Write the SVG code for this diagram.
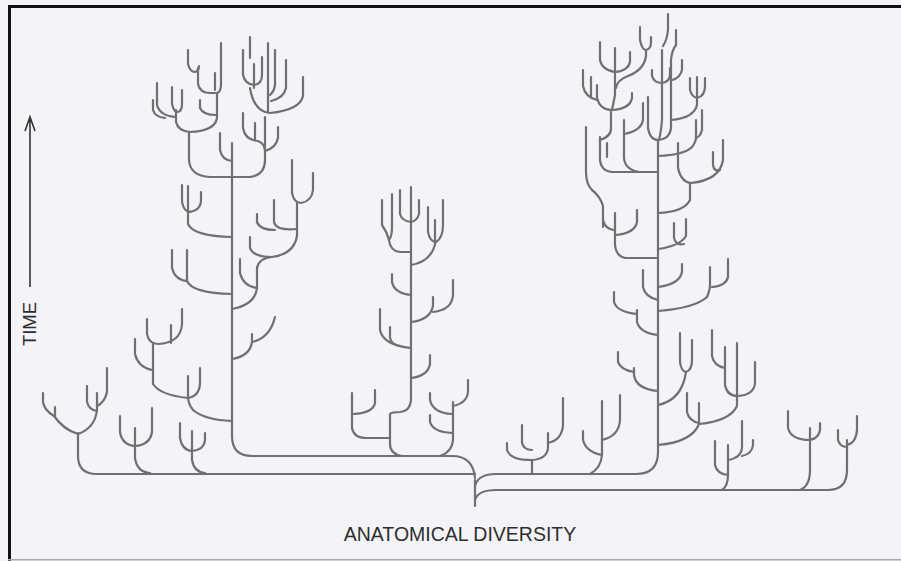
<svg xmlns="http://www.w3.org/2000/svg" width="901" height="561" viewBox="0 0 901 561">
<style>
.b{fill:none;stroke:#707070;stroke-width:2.2;stroke-linecap:round;stroke-linejoin:round}
.lbl{font-family:"Liberation Sans",Arial,sans-serif;fill:#2e2e2e}
</style>
<rect x="0" y="0" width="901" height="561" fill="#f3f3f8"/>
<g id="frame">
<rect x="8" y="5" width="893" height="3" fill="#111"/>
<rect x="8" y="5" width="3" height="556" fill="#111"/>
<rect x="8" y="559" width="893" height="1.5" fill="#aaa"/>
</g>
<g id="time-axis">
<path d="M30 287 V118 M25 131 L30 117 L35 131" fill="none" stroke="#333" stroke-width="1.6"/>
<text class="lbl" font-size="18.5" text-anchor="middle" transform="translate(36,324) rotate(-90)">TIME</text>
</g>
<text id="x-label" class="lbl" font-size="19.5" x="460" y="541" text-anchor="middle">ANATOMICAL DIVERSITY</text>
<g id="connectors" class="b">
<path d="M475 506 V480"/>
<path d="M475 478 Q473 456 452 456 H252 Q232 456 232 436"/>
<path d="M475 474 H95 Q78 473 78 456 V433"/>
<path d="M475 486 Q478 474 496 474 H636 Q658 474 658 452"/>
<path d="M475 500 Q478 490 496 490 H828 Q847 490 847 470 V440"/>
</g>
<g id="clade-far-left" class="b">
<path d="M78 434 Q64 430 54 416 Q44 410 43 402 V393"/>
<path d="M55 416 V407"/>
<path d="M78 434 Q95 428 97 410 V393"/>
<path d="M87 386 V402 Q89 410 97 411"/>
<path d="M107 368 V392 Q105 402 97 406"/>
<path d="M135 428 V458 Q137 472 150 473"/>
<path d="M120 416 V432 Q122 445 135 446 Q150 445 152 432 V408"/>
<path d="M192 431 V460 Q194 472 205 473"/>
<path d="M180 423 V438 Q182 450 192 451 Q204 450 205 440 V433"/>
</g>
<g id="tree-left" class="b">
<path d="M232 436 V143"/>
<path d="M232 421 Q205 420 193 410 Q188 404 188 396 V376"/>
<path d="M188 398 Q200 396 200 382 V368"/>
<path d="M188 398 Q160 395 153 384 V344"/>
<path d="M147 319 V334 Q149 344 158 344 Q180 343 182 325 V309"/>
<path d="M171 325 V343"/>
<path d="M135 339 V354 Q138 367 152 370"/>
<path d="M232 359 Q250 356 252 342 V334"/>
<path d="M252 342 Q270 338 275 317"/>
<path d="M232 309 Q255 305 257 288 V267"/>
<path d="M240 259 V273 Q243 286 257 288"/>
<path d="M257 268 Q259 258 272 257 Q294 254 297 236 V203"/>
<path d="M250 237 V248 Q253 257 272 257"/>
<path d="M297 229 Q276 231 274 222 V200"/>
<path d="M257 214 V222 Q260 230 275 230"/>
<path d="M292 160 V193 Q294 203 301 203 Q312 201 313 190 V173"/>
<path d="M232 294 Q192 293 187 281 V250"/>
<path d="M172 250 V268 Q175 280 187 281"/>
<path d="M232 237 Q193 236 188 224 V186"/>
<path d="M182 185 V202 Q184 212 190 212"/>
<path d="M188 212 Q201 211 201 200 V192"/>
<path d="M232 177 H210 Q190 176 189 160 V133"/>
<path d="M232 177 H250 Q265 175 265 160 V117"/>
<path d="M220 133 V150 Q222 160 232 161"/>
<path d="M243 113 V128 Q245 140 258 141 Q264 143 265 150"/>
<path d="M255 123 V140"/>
<path d="M278 127 V138 Q276 148 265 151"/>
<path d="M268 112 V43"/>
<path d="M250 88 Q254 112 270 113 Q300 110 303 96 V77"/>
<path d="M275 50 V80 Q276 90 270 95"/>
<path d="M286 60 V88 Q284 98 271 101"/>
<path d="M243 50 V75 Q245 84 254 85 Q262 84 262 75 V57"/>
<path d="M254 64 V88"/>
<path d="M250 37 V58"/>
<path d="M176 110 V122 Q178 131 190 132 Q215 131 217 118 V93"/>
<path d="M172 87 V104 Q174 112 177 112 Q182 112 182 104 V90"/>
<path d="M157 83 V105 Q160 116 176 117"/>
<path d="M153 100 V110 Q155 117 165 118"/>
<path d="M200 100 V108 Q203 115 216 115"/>
<path d="M198 68 V84 Q200 93 210 93 H217 Q221 92 221 84 V43"/>
<path d="M215 73 V90"/>
<path d="M188 50 V64 Q190 72 195 72 Q199 71 199 66"/>
</g>
<g id="tree-middle" class="b">
<path d="M402 456 Q390 454 390 444 V414 Q392 412 400 412 Q411 411 411 398 V187"/>
<path d="M352 393 V428 Q354 438 366 438 H390"/>
<path d="M375 390 V403 Q373 413 353 414"/>
<path d="M440 456 Q452 452 453 440 V402"/>
<path d="M430 415 V422 Q433 432 452 433"/>
<path d="M430 393 V400 Q433 413 452 414"/>
<path d="M453 406 Q467 403 468 392 V380"/>
<path d="M411 378 Q428 376 430 364 V355"/>
<path d="M411 348 Q383 345 380 330 V309"/>
<path d="M390 327 V338 Q392 345 400 346"/>
<path d="M411 322 Q430 320 433 306 V297"/>
<path d="M433 312 Q452 310 453 295 V280"/>
<path d="M411 295 Q394 293 392 282 V274"/>
<path d="M411 265 Q430 262 435 245 V220"/>
<path d="M428 207 V232 Q430 242 436 242 Q443 238 443 225 V200"/>
<path d="M411 252 H400 Q390 251 389 240 Q387 232 382 225 V200"/>
<path d="M392 194 V228 Q392 236 389 240"/>
<path d="M400 190 V214 Q402 221 411 222"/>
<path d="M419 200 V214 Q417 221 411 222"/>
</g>
<g id="clades-right-low" class="b">
<path d="M532 474 V460"/>
<path d="M507 443 V450 Q510 460 532 460 Q547 459 548 448 V433"/>
<path d="M522 425 V443 Q524 450 532 450"/>
<path d="M548 443 Q562 440 563 425 V398"/>
<path d="M590 474 Q601 468 602 455 V401"/>
<path d="M583 431 V440 Q586 452 602 455"/>
<path d="M602 440 Q619 436 620 420 V395"/>
<path d="M722 490 Q728 486 728 475 V445"/>
<path d="M715 441 V465 Q717 474 728 475"/>
<path d="M728 460 Q741 458 742 448 V421"/>
<path d="M742 456 Q752 454 753 445 V440"/>
<path d="M800 490 Q810 486 810 470 V428"/>
<path d="M788 411 V428 Q791 440 810 440 Q819 438 820 430 V423"/>
<path d="M838 430 V440 Q840 447 847 447"/>
<path d="M847 445 Q856 443 857 430 V416"/>
</g>
<g id="tree-right" class="b">
<path d="M658 452 V140"/>
<path d="M658 445 Q692 442 699 424 V403"/>
<path d="M687 393 V412 Q689 421 699 423"/>
<path d="M699 424 Q730 421 737 406 V396"/>
<path d="M725 347 V385 Q727 396 738 396 Q754 395 755 383 V362"/>
<path d="M737 343 V396"/>
<path d="M712 330 V356 Q714 366 725 368"/>
<path d="M658 405 Q682 400 686 372"/>
<path d="M680 333 V362 Q681 371 686 372 Q692 370 692 360 V340"/>
<path d="M658 391 Q636 389 634 375 V368"/>
<path d="M618 352 V362 Q621 370 634 372"/>
<path d="M658 335 Q640 333 637 322 V310"/>
<path d="M614 292 V302 Q617 312 637 314"/>
<path d="M658 311 Q695 308 707 297 Q710 290 710 285 V267"/>
<path d="M728 259 V277 Q726 286 712 287"/>
<path d="M658 300 Q645 297 643 287 V270"/>
<path d="M658 287 Q680 284 682 272 V264"/>
<path d="M658 258 H625 Q616 256 615 245 V213"/>
<path d="M603 227 V206 Q600 196 592 190 Q586 184 586 172 V127"/>
<path d="M603 220 Q605 229 614 230"/>
<path d="M637 210 V222 Q635 233 616 235"/>
<path d="M658 249 Q680 246 686 236 V219"/>
<path d="M674 223 V238 Q676 246 684 244"/>
<path d="M658 213 Q684 212 690 200 V183"/>
<path d="M678 143 V168 Q681 182 691 183 Q720 180 723 160 V140"/>
<path d="M713 152 V165 Q714 172 720 170"/>
<path d="M658 172 H612 Q601 171 600 160 V137"/>
<path d="M607 143 V157"/>
<path d="M658 172 H640 Q625 170 624 158 V120"/>
<path d="M643 103 V120 Q641 131 624 134"/>
<path d="M597 85 V98 Q600 110 612 110 Q630 109 632 98 V93"/>
<path d="M583 70 V86 Q585 97 597 100"/>
<path d="M591 77 V97"/>
<path d="M611 110 V127 Q612 136 600 140"/>
<path d="M615 95 Q613 105 612 110"/>
<path d="M600 42 V60 Q602 70 615 72 Q628 71 630 62 V52"/>
<path d="M615 48 V95"/>
<path d="M640 27 V40 Q642 50 646 50 Q651 49 651 42 V37"/>
<path d="M646 50 V56 Q644 70 628 76 Q617 80 616 88"/>
<path d="M648 97 V128 Q650 140 658 140 Q670 139 671 128 V107"/>
<path d="M659 140 Q661 132 662 120 V50"/>
<path d="M652 70 V76 Q654 83 662 83 Q670 82 670 74 V68"/>
<path d="M668 14 V30 Q667 40 663 46"/>
<path d="M671 107 V60 Q672 50 676 45 V30"/>
<path d="M682 60 V70 Q680 78 672 80"/>
<path d="M671 120 Q694 118 697 105 V77"/>
<path d="M690 78 V90 Q692 97 697 98 Q705 96 705 86 V78"/>
<path d="M658 156 Q684 155 692 147 Q696 142 696 137 V120"/>
<path d="M702 110 V130 Q700 137 696 138"/>
</g>
</svg>
